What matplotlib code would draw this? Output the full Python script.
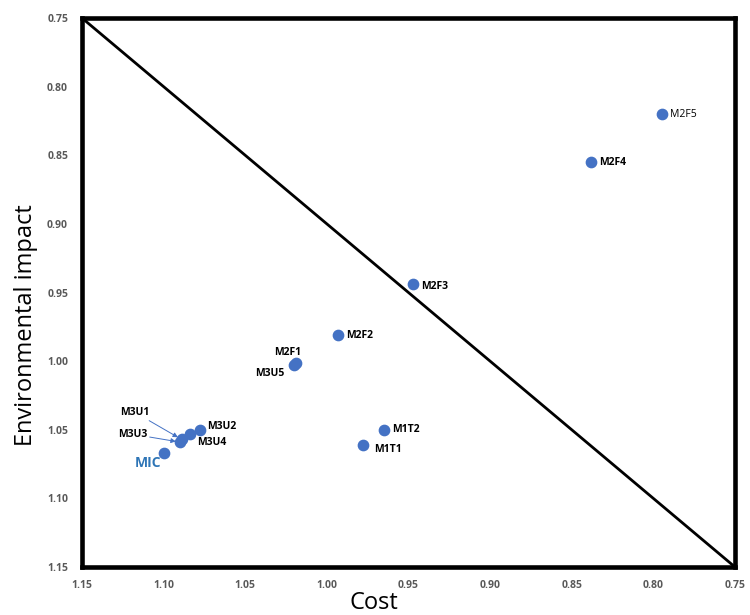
import matplotlib.pyplot as plt

# data
names = ['M2F5', 'M2F4', 'M2F3', 'M2F2', 'M2F1', 'M3U5', 'M1T2', 'M1T1',
         'M3U2', 'M3U4', 'M3U1', 'M3U3', 'MIC']
cost = [0.795, 0.838, 0.947, 0.993, 1.019, 1.020, 0.965, 0.978,
        1.078, 1.084, 1.089, 1.090, 1.100]
env = [0.820, 0.855, 0.944, 0.981, 1.001, 1.003, 1.050, 1.061,
       1.050, 1.053, 1.057, 1.059, 1.067]
diag_x = [1.15, 0.75]
diag_y = [0.75, 1.15]
ticks = [0.75, 0.80, 0.85, 0.90, 0.95, 1.00, 1.05, 1.10, 1.15]

# label offsets in pixels, alignment
label_pos = {
    'M2F5': (8, 0, 'left'),
    'M2F4': (8, 0, 'left'),
    'M2F3': (8, -2, 'left'),
    'M2F2': (8, 0, 'left'),
    'M2F1': (5, 10, 'right'),
    'M3U5': (-10, -8, 'right'),
    'M1T2': (8, 0, 'left'),
    'M1T1': (11, -5, 'left'),
    'M3U2': (8, 3, 'left'),
    'M3U4': (7, -9, 'left'),
    'M3U1': (-32, 27, 'right'),
    'M3U3': (-33, 8, 'right'),
    'MIC': (-2, -10, 'right'),
}

plt.rcParams['font.family'] = ['Open Sans', 'DejaVu Sans']

fig = plt.figure(figsize=(7.5, 6.15), dpi=100)
ax = fig.add_axes([0.1093, 0.078, 0.8707, 0.8927])

ax.plot(diag_x, diag_y, color='black', linewidth=2, zorder=1)
ax.scatter(cost, env, s=55, color='#4472C4', zorder=3)

for n, x, y in zip(names, cost, env):
    dx, dy, ha = label_pos[n]
    if n == 'MIC':
        ax.annotate(n, (x, y), xytext=(dx, dy), textcoords='offset pixels',
                    ha=ha, va='center', fontsize=10, fontweight='bold', color='#2E75B6')
    elif n in ('M3U1', 'M3U3'):
        ax.annotate(n, (x, y), xytext=(dx, dy), textcoords='offset pixels',
                    ha=ha, va='center', fontsize=7.5, fontweight='bold',
                    arrowprops=dict(arrowstyle='-|>', color='#4472C4', lw=0.7,
                                    shrinkA=0, shrinkB=3, mutation_scale=7))
    else:
        ax.annotate(n, (x, y), xytext=(dx, dy), textcoords='offset pixels',
                    ha=ha, va='center', fontsize=7.5,
                    fontweight='normal' if n == 'M2F5' else 'bold')

ax.set_xlim(1.15, 0.75)
ax.set_ylim(1.15, 0.75)
ax.set_xticks(ticks)
ax.set_yticks(ticks)
ax.set_xticklabels(['%.2f' % t for t in ticks])
ax.set_yticklabels(['%.2f' % t for t in ticks])
ax.tick_params(length=0, labelsize=7.5, labelcolor='#595959')
ax.tick_params(axis='y', pad=10)
ax.tick_params(axis='x', pad=9)
for lab in ax.get_xticklabels() + ax.get_yticklabels():
    lab.set_fontweight('bold')

for sp in ax.spines.values():
    sp.set_linewidth(3.3)
    sp.set_color('black')

ax.set_xlabel('Cost', fontsize=17)
ax.set_ylabel('Environmental impact', fontsize=17)
ax.xaxis.set_label_coords(0.447, -0.044)
ax.yaxis.set_label_coords(-0.068, 0.44)

plt.savefig('out.png', dpi=100)
